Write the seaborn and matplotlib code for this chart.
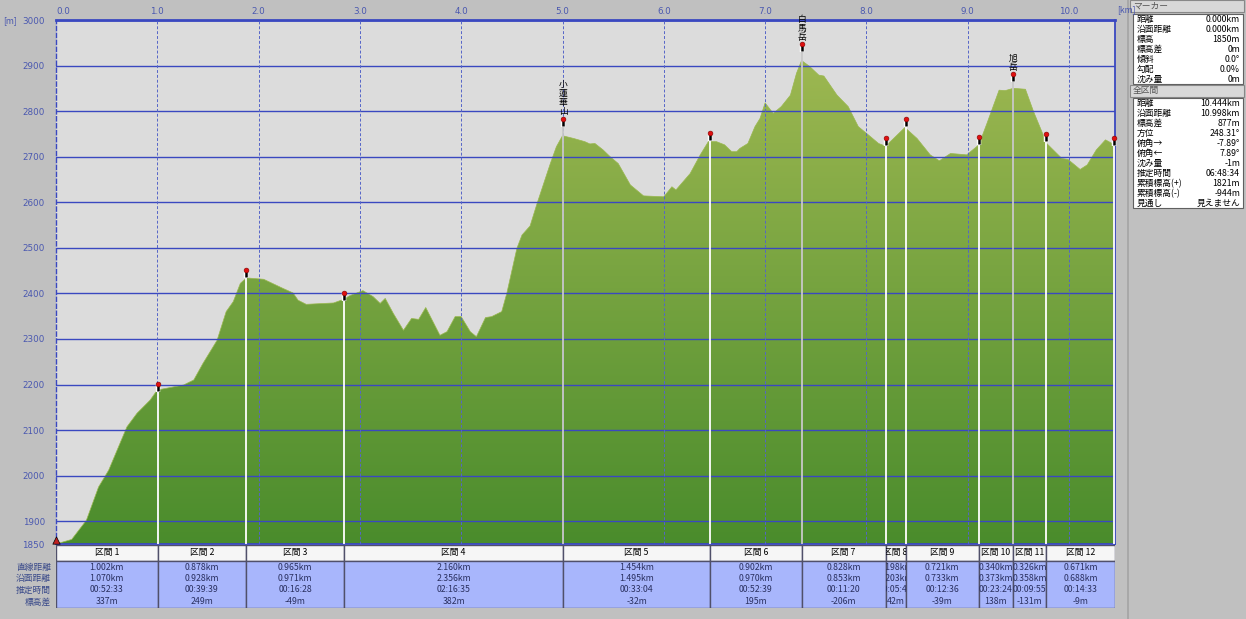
import numpy as np
import matplotlib
matplotlib.use("Agg")
import matplotlib.pyplot as plt
import seaborn as sns
from matplotlib.patches import Rectangle
from matplotlib import transforms
from matplotlib.colors import LinearSegmentedColormap

sns.set_theme(style="white")
plt.rcParams["font.family"] = ["Noto Sans CJK JP", "DejaVu Sans"]

# ---------------- data ----------------
dist_km = [0.00, 0.155, 0.30, 0.42, 0.52, 0.70, 0.80, 0.93, 1.00, 1.26, 1.36, 1.45, 1.59,
           1.68, 1.75, 1.82, 1.88, 2.05, 2.24, 2.34, 2.39, 2.47, 2.74, 2.84, 2.90, 3.03,
           3.13, 3.20, 3.25, 3.33, 3.43, 3.51, 3.58, 3.65, 3.79, 3.86, 3.94, 4.00, 4.09,
           4.15, 4.24, 4.30, 4.40, 4.45, 4.55, 4.60, 4.68, 4.75, 4.88, 4.94, 5.00, 5.11,
           5.22, 5.27, 5.32, 5.40, 5.47, 5.55, 5.67, 5.80, 6.00, 6.08, 6.12, 6.26, 6.36,
           6.44, 6.52, 6.60, 6.67, 6.72, 6.75, 6.83, 6.90, 6.95, 7.00, 7.08, 7.16, 7.25,
           7.31, 7.36, 7.44, 7.53, 7.58, 7.71, 7.82, 7.92, 8.04, 8.12, 8.19, 8.38, 8.50,
           8.63, 8.72, 8.83, 8.89, 8.99, 9.11, 9.19, 9.31, 9.37, 9.45, 9.57, 9.65, 9.78,
           9.93, 9.99, 10.11, 10.18, 10.27, 10.36, 10.45]
elev_m = [1850, 1860, 1902, 1975, 2012, 2107, 2137, 2166, 2188, 2199, 2210, 2246, 2297,
          2360, 2382, 2422, 2434, 2431, 2411, 2401, 2385, 2376, 2379, 2387, 2395, 2406,
          2393, 2378, 2389, 2356, 2319, 2345, 2343, 2369, 2308, 2316, 2349, 2349, 2316,
          2305, 2347, 2349, 2360, 2400, 2499, 2528, 2548, 2598, 2685, 2722, 2746, 2740,
          2733, 2728, 2729, 2715, 2700, 2685, 2638, 2614, 2612, 2634, 2627, 2663, 2704,
          2733, 2733, 2726, 2711, 2711, 2718, 2729, 2766, 2784, 2818, 2795, 2810, 2835,
          2883, 2911, 2898, 2879, 2877, 2835, 2810, 2766, 2744, 2729, 2723, 2764, 2740,
          2704, 2691, 2707, 2706, 2704, 2726, 2773, 2846, 2845, 2850, 2848, 2799, 2729,
          2696, 2694, 2672, 2682, 2715, 2737, 2726]

start_elev = 1850
sec_labels = [f"区間 {i}" for i in range(1, 13)]
sec_straight_km = [1.002, 0.878, 0.965, 2.160, 1.454, 0.902, 0.828, 0.198, 0.721, 0.340, 0.326, 0.671]
sec_surface_km = [1.070, 0.928, 0.971, 2.356, 1.495, 0.970, 0.853, 0.203, 0.733, 0.373, 0.358, 0.688]
sec_time = ["00:52:33", "00:39:39", "00:16:28", "02:16:35", "00:33:04", "00:52:39",
            "00:11:20", "00:05:45", "00:12:36", "00:23:24", "00:09:55", "00:14:33"]
sec_diff_m = [337, 249, -49, 382, -32, 195, -206, 42, -39, 138, -131, -9]
row_labels = ["直線距離", "沿面距離", "推定時間", "標高差"]
marker_names = {4: "小蓮華山", 6: "白馬岳", 10: "旭岳"}

x_ticks = [0, 1, 2, 3, 4, 5, 6, 7, 8, 9, 10]
y_ticks = [1850, 1900, 2000, 2100, 2200, 2300, 2400, 2500, 2600, 2700, 2800, 2900, 3000]

panel1_title = "マーカー"
panel1_rows = [("距離", "0.000km"), ("沿面距離", "0.000km"), ("標高", "1850m"), ("標高差", "0m"),
               ("傾斜", "0.0°"), ("勾配", "0.0%"), ("沈み量", "0m")]
panel2_title = "全区間"
panel2_rows = [("距離", "10.444km"), ("沿面距離", "10.998km"), ("標高差", "877m"), ("方位", "248.31°"),
               ("俯角→", "-7.89°"), ("俯角←", "7.89°"), ("沈み量", "-1m"), ("推定時間", "06:48:34"),
               ("累積標高(+)", "1821m"), ("累積標高(-)", "-944m"), ("見通し", "見えません")]

# derived marker positions
marker_km = np.concatenate([[0], np.cumsum(sec_straight_km)])
marker_elev = np.concatenate([[start_elev], start_elev + np.cumsum(sec_diff_m)])

# ---------------- figure ----------------
W, H = 1246, 619
fig = plt.figure(figsize=(W / 100, H / 100), dpi=100)
fig.patch.set_facecolor("#c0c0c0")

def fx(px):
    return px / W

def fy(py):
    return 1 - py / H

XL, XR, YT, YB = 56, 1115, 20, 544
xmax = 10.454
blue = "#3a48c0"
tickblue = "#4a58b0"
FS = 6.3

ax = fig.add_axes([fx(XL), fy(YB), (XR - XL) / W, (YB - YT) / H])
ax.set_facecolor("#dcdcdc")
ax.set_xlim(0, xmax)
ax.set_ylim(1850, 3000)

# gradient fill
poly = ax.fill_between(dist_km, elev_m, 1850, facecolor="none", edgecolor="none")
cmap = LinearSegmentedColormap.from_list("g", ["#4a8c2c", "#a4bb54"])
grad = np.linspace(0, 1, 256).reshape(-1, 1)
im = ax.imshow(grad, extent=[0, xmax, 1850, 3000], origin="lower", aspect="auto",
               cmap=cmap, zorder=1)
im.set_clip_path(poly.get_paths()[0], transform=ax.transData)
sns.lineplot(x=dist_km, y=elev_m, ax=ax, color="#9ab84e", lw=0.5, zorder=2)

# grid
for v in range(1900, 3001, 100):
    ax.axhline(v, color=blue, lw=1.0, zorder=3)
for v in range(1, 11):
    ax.axvline(v, color="#5565c8", lw=0.7, ls=(0, (3, 2)), zorder=3)

# marker lines
for i, (mk, me) in enumerate(zip(marker_km, marker_elev)):
    if i == 0:
        continue
    col = "#c8c8c8" if i in marker_names else "white"
    ax.vlines(mk, 1850, me, color=col, lw=1.3, zorder=4)

# pins
stem_tr = transforms.offset_copy(ax.transData, fig=fig, x=0, y=2.5, units="dots")
head_tr = transforms.offset_copy(ax.transData, fig=fig, x=0, y=6.5, units="dots")
pm_k = marker_km[1:]
pm_e = marker_elev[1:]
ax.scatter(pm_k, pm_e, marker="|", s=28, linewidths=3.2, color="white", transform=stem_tr, zorder=5, clip_on=False)
ax.scatter(pm_k, pm_e, marker="|", s=22, linewidths=1.8, color="black", transform=stem_tr, zorder=6, clip_on=False)
ax.scatter(pm_k, pm_e, marker="o", s=12, color="#e01010", edgecolors="#800000", linewidths=0.4,
           transform=head_tr, zorder=7, clip_on=False)

# names
lab_tr = transforms.offset_copy(ax.transData, fig=fig, x=0, y=9, units="dots")
for i, name in marker_names.items():
    ax.text(marker_km[i], marker_elev[i], "\n".join(name), transform=lab_tr, ha="center", va="bottom",
            fontsize=FS, linespacing=1.0, color="black", zorder=8)

# start hiker icon
hk_tr = transforms.offset_copy(ax.transData, fig=fig, x=0, y=4, units="dots")
ax.scatter([marker_km[0]], [marker_elev[0]], marker="^", s=28, color="#c02020", edgecolors="black",
           linewidths=0.5, transform=hk_tr, zorder=8, clip_on=False)

# axes styling
ax.set_xticks(x_ticks)
ax.set_xticklabels([f"{v:.1f}" for v in x_ticks])
ax.xaxis.tick_top()
ax.set_yticks(y_ticks)
ax.set_yticklabels([str(v) for v in y_ticks])
ax.tick_params(length=0, labelsize=FS, labelcolor=tickblue)
ax.tick_params(axis="x", pad=3)
ax.tick_params(axis="y", pad=8)
for lab in ax.get_xticklabels():
    lab.set_fontfamily(["DejaVu Sans"])
for lab in ax.get_yticklabels():
    lab.set_fontfamily(["DejaVu Sans"])
ax.get_xticklabels()[0].set_horizontalalignment("left")
ax.set_xlabel("")
ax.set_ylabel("")
for s in ["top", "right", "bottom"]:
    ax.spines[s].set_color(blue)
    ax.spines[s].set_linewidth(1.3)
ax.spines["left"].set_color(blue)
ax.spines["left"].set_linestyle((0, (3, 2)))
ax.spines["left"].set_linewidth(1.0)
ax.spines["top"].set_linewidth(2.0)
fig.text(fx(XR + 2), fy(10), "[km]", fontsize=FS, color=tickblue, va="center", ha="left")
fig.text(fx(3), fy(21), "[m]", fontsize=FS, color=tickblue, va="center", ha="left")

# ---------------- section table ----------------
tax = fig.add_axes([fx(XL), fy(608), (XR - XL) / W, (608 - 545) / H])
tax.set_xlim(0, xmax)
tax.set_ylim(608, 545)
tax.axis("off")
bounds = list(marker_km)
bounds[-1] = xmax
row_y = [567, 578.5, 590, 602]
for i in range(12):
    b0, b1 = bounds[i], bounds[i + 1]
    hr = Rectangle((b0, 545), b1 - b0, 16, facecolor="#f6f6f6", edgecolor="#50506a", lw=1.0)
    tax.add_patch(hr)
    t = tax.text((b0 + b1) / 2, 553, sec_labels[i], ha="center", va="center", fontsize=FS,
                 color="black", clip_on=True)
    t.set_clip_path(hr)
    br = Rectangle((b0, 561), b1 - b0, 47, facecolor="#a8b6fc", edgecolor="#50506a", lw=1.0)
    tax.add_patch(br)
    vals = [f"{sec_straight_km[i]:.3f}km", f"{sec_surface_km[i]:.3f}km", sec_time[i], f"{sec_diff_m[i]}m"]
    for yv, v in zip(row_y, vals):
        t = tax.text((b0 + b1) / 2, yv, v, ha="center", va="center", fontsize=FS, color="#2a3060",
                     clip_on=True)
        t.set_clip_path(br)
for yv, lab in zip(row_y, row_labels):
    fig.text(fx(51), fy(yv), lab, ha="right", va="center", fontsize=FS, color="#3a4a8a")

# ---------------- right info panel ----------------
pax = fig.add_axes([fx(1127), 0, (W - 1127) / W, 1])
pax.set_xlim(1127, W)
pax.set_ylim(H, 0)
pax.axis("off")
pax.add_patch(Rectangle((1127, 0), 2, H, facecolor="#a8a8a8", edgecolor="none"))

def panel(title, y_title, rows, y_box_top, y_box_bot, y_first):
    pax.add_patch(Rectangle((1130, y_title - 6), 114, 12, facecolor="#d8d8d8", edgecolor="#888888", lw=0.8))
    pax.text(1133, y_title, title, ha="left", va="center", fontsize=FS, color="#555555")
    pax.add_patch(Rectangle((1133, y_box_top), 110, y_box_bot - y_box_top, facecolor="white",
                            edgecolor="#606060", lw=0.8))
    for k, (lab, val) in enumerate(rows):
        yy = y_first + k * 10
        pax.text(1137, yy, lab, ha="left", va="center", fontsize=FS, color="black")
        pax.text(1240, yy, val, ha="right", va="center", fontsize=FS, color="black")

panel(panel1_title, 6, panel1_rows, 14, 84, 19.5)
panel(panel2_title, 91, panel2_rows, 98, 208, 103.5)

fig.savefig("out.png", dpi=100, facecolor=fig.get_facecolor())
